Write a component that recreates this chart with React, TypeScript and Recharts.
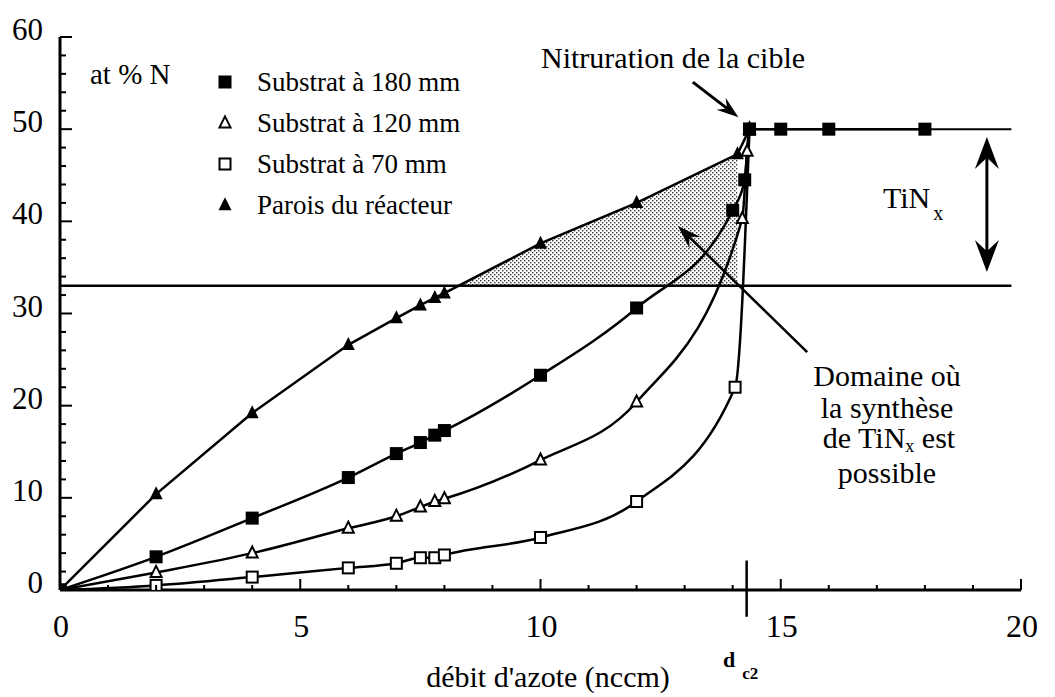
import React from 'react';
import { ComposedChart, Line, Area, XAxis, YAxis, ReferenceLine } from 'recharts';

const FONT = 'Liberation Serif';

// readings from the figure: [débit (nccm), at % N]
const sub180 = [
  [0, 0], [2, 3.6], [4, 7.8], [6, 12.2], [7, 14.8], [7.5, 16], [7.8, 16.8], [8, 17.3],
  [10, 23.3], [12, 30.6], [14, 41.2], [14.25, 44.5], [14.35, 50], [15, 50], [16, 50], [18, 50],
].map(([x, y]) => ({ x, y }));

const sub120 = [
  [0, 0], [2, 1.9], [4, 4], [6, 6.7], [7, 8], [7.5, 9], [7.8, 9.6], [8, 9.9],
  [10, 14.1], [12, 20.4], [14.2, 40.3], [14.3, 47.6], [14.35, 50],
].map(([x, y]) => ({ x, y }));

const sub70 = [
  [0, 0], [2, 0.5], [4, 1.4], [6, 2.4], [7, 2.9], [7.5, 3.5], [7.8, 3.5], [8, 3.8],
  [10, 5.7], [12, 9.6], [14.05, 22], [14.35, 50],
].map(([x, y]) => ({ x, y }));

const parois = [
  [0, 0], [2, 10.4], [4, 19.2], [6, 26.6], [7, 29.5], [7.5, 30.9], [7.8, 31.7], [8, 32.2],
  [10, 37.6], [12, 42], [14.1, 47.3], [14.35, 50],
].map(([x, y]) => ({ x, y }));

// shaded "domaine" between the 33 % line and the wall curve
const domaine = [
  [8.33, 33], [10, 37.6], [12, 42], [14.1, 47.3],
].map(([x, hi]) => ({ x, lo: 33, hi }));

const xTicks = Array.from({ length: 21 }, (_, i) => i);
const yTicks = Array.from({ length: 31 }, (_, i) => i * 2);
const seuil = 33;
const dc2 = 14.29;

type Kind = 'sqFill' | 'sqOpen' | 'triOpen' | 'triFill';

function Marker({ kind, cx, cy }: { kind: Kind; cx: number; cy: number }) {
  if (kind === 'sqFill') {
    const s = 13;
    return <rect x={cx - s / 2} y={cy - s / 2} width={s} height={s} fill="#000" />;
  }
  if (kind === 'sqOpen') {
    const s = 11;
    return <rect x={cx - s / 2} y={cy - s / 2} width={s} height={s} fill="#fff" stroke="#000" strokeWidth={2} />;
  }
  const s = kind === 'triFill' ? 13 : 11;
  const pts = `${cx},${cy - s * 0.6} ${cx - s / 2},${cy + s * 0.4} ${cx + s / 2},${cy + s * 0.4}`;
  return kind === 'triFill' ? (
    <polygon points={pts} fill="#000" />
  ) : (
    <polygon points={pts} fill="#fff" stroke="#000" strokeWidth={2} />
  );
}

const dotFor = (kind: Kind) => (p: any) => {
  if (p.cx == null || p.cy == null) return <g key={`${kind}-${p.index}`} />;
  return (
    <g key={`${kind}-${p.index}`}>
      <Marker kind={kind} cx={p.cx} cy={p.cy} />
    </g>
  );
};

function head(tx: number, ty: number, ux: number, uy: number, len: number, wid: number) {
  const nx = -uy;
  const ny = ux;
  const bx = tx - ux * len;
  const by = ty - uy * len;
  const mx = tx - ux * len * 0.65;
  const my = ty - uy * len * 0.65;
  return `${tx},${ty} ${bx + (nx * wid) / 2},${by + (ny * wid) / 2} ${mx},${my} ${bx - (nx * wid) / 2},${by - (ny * wid) / 2}`;
}

const arrow = (len: number, wid: number, sw: number, both = false) => (props: any) => {
  const { x1, y1, x2, y2 } = props;
  const d = Math.hypot(x2 - x1, y2 - y1) || 1;
  const ux = (x2 - x1) / d;
  const uy = (y2 - y1) / d;
  const sx = both ? x1 + ux * len * 0.6 : x1;
  const sy = both ? y1 + uy * len * 0.6 : y1;
  return (
    <g>
      <line x1={sx} y1={sy} x2={x2 - ux * len * 0.6} y2={y2 - uy * len * 0.6} stroke="#000" strokeWidth={sw} />
      <polygon points={head(x2, y2, ux, uy, len, wid)} fill="#000" />
      {both && <polygon points={head(x1, y1, -ux, -uy, len, wid)} fill="#000" />}
    </g>
  );
};

function XTick({ x, y, payload }: any) {
  const v = payload.value as number;
  const major = v % 5 === 0;
  return (
    <g>
      <line x1={x} y1={y} x2={x} y2={y - (major ? 11 : 5)} stroke="#000" strokeWidth={2} />
      {major && (
        <text x={x + 1} y={y + 47} textAnchor="middle" fontFamily={FONT} fontSize={32} fill="#000">
          {v}
        </text>
      )}
    </g>
  );
}

function YTick({ x, y, payload }: any) {
  const v = payload.value as number;
  const major = v % 10 === 0;
  return (
    <g>
      <line x1={x} y1={y} x2={x + (major ? 12 : 6)} y2={y} stroke="#000" strokeWidth={2} />
      {major && (
        <text x={x - 17} y={y + 3} textAnchor="end" fontFamily={FONT} fontSize={31} fill="#000">
          {v}
        </text>
      )}
    </g>
  );
}

const legend: { kind: Kind; label: string }[] = [
  { kind: 'sqFill', label: 'Substrat à 180 mm' },
  { kind: 'triOpen', label: 'Substrat à 120 mm' },
  { kind: 'sqOpen', label: 'Substrat à 70 mm' },
  { kind: 'triFill', label: 'Parois du réacteur' },
];

export default function App() {
  const t = { fontFamily: FONT, fill: '#000' };
  return (
    <div style={{ position: 'absolute', left: 0, top: 0, width: 1055, height: 697, background: '#fff' }}>
      <ComposedChart width={1055} height={697} margin={{ top: 37, right: 34, bottom: 67, left: 0 }}>
        <defs>
          <pattern id="stipple" width="4" height="4" patternUnits="userSpaceOnUse">
            <rect width="4" height="4" fill="#fff" />
            <rect x="0" y="0" width="1.4" height="1.4" fill="#333" />
            <rect x="2" y="2" width="1.4" height="1.4" fill="#333" />
          </pattern>
        </defs>
        <XAxis
          dataKey="x"
          type="number"
          domain={[0, 20]}
          ticks={xTicks}
          interval={0}
          height={40}
          tickSize={0}
          tickMargin={0}
          tickLine={false}
          tick={<XTick />}
          axisLine={{ stroke: '#000', strokeWidth: 3 }}
          allowDataOverflow
        />
        <YAxis
          type="number"
          domain={[0, 60]}
          ticks={yTicks}
          interval={0}
          width={60}
          tickSize={0}
          tickMargin={0}
          tickLine={false}
          tick={<YTick />}
          axisLine={{ stroke: '#000', strokeWidth: 3 }}
          allowDataOverflow
        />
        <Area
          data={domaine}
          dataKey={(d: any) => [d.lo, d.hi]}
          type="linear"
          fill="url(#stipple)"
          fillOpacity={1}
          stroke="none"
          dot={false}
          activeDot={false}
          isAnimationActive={false}
        />
        <ReferenceLine segment={[{ x: 0, y: seuil }, { x: 19.8, y: seuil }]} stroke="#000" strokeWidth={2.5} />
        <ReferenceLine segment={[{ x: 14.35, y: 50 }, { x: 19.8, y: 50 }]} stroke="#000" strokeWidth={2} />
        <ReferenceLine
          segment={[{ x: dc2, y: 3.2 }, { x: dc2, y: -2.9 }]}
          stroke="#000"
          strokeWidth={2.5}
          ifOverflow="visible"
        />
        <ReferenceLine
          segment={[{ x: 13.17, y: 55.1 }, { x: 14.12, y: 51.3 }]}
          ifOverflow="visible"
          shape={arrow(22, 15, 3)}
        />
        <ReferenceLine
          segment={[{ x: 15.55, y: 25.8 }, { x: 12.86, y: 39.5 }]}
          ifOverflow="visible"
          shape={arrow(24, 16, 2.5)}
        />
        <ReferenceLine
          segment={[{ x: 19.29, y: 49.15 }, { x: 19.29, y: 34.5 }]}
          ifOverflow="visible"
          shape={arrow(32, 24, 3, true)}
        />
        <Line data={sub70} dataKey="y" type="monotone" stroke="#000" strokeWidth={2.5} dot={dotFor('sqOpen')} activeDot={false} isAnimationActive={false} />
        <Line data={sub120} dataKey="y" type="monotone" stroke="#000" strokeWidth={2.5} dot={dotFor('triOpen')} activeDot={false} isAnimationActive={false} />
        <Line data={parois} dataKey="y" type="linear" stroke="#000" strokeWidth={2.5} dot={dotFor('triFill')} activeDot={false} isAnimationActive={false} />
        <Line data={sub180} dataKey="y" type="monotone" stroke="#000" strokeWidth={2.5} dot={dotFor('sqFill')} activeDot={false} isAnimationActive={false} />

        <text x={90} y={84} fontSize={29} {...t}>at % N</text>
        {legend.map((l, i) => (
          <g key={l.label}>
            <Marker kind={l.kind} cx={225} cy={82 + i * 41} />
            <text x={257} y={91 + i * 41} fontSize={27} {...t}>{l.label}</text>
          </g>
        ))}
        <text x={541} y={68} fontSize={30} {...t}>Nitruration de la cible</text>
        <text x={883} y={208} fontSize={30} {...t}>
          TiN<tspan dx={3} dy={12} fontSize={20}>x</tspan>
        </text>
        <text x={887} y={386} fontSize={30} textAnchor="middle" {...t}>Domaine où</text>
        <text x={887} y={418} fontSize={30} textAnchor="middle" {...t}>la synthèse</text>
        <text x={889} y={448} fontSize={30} textAnchor="middle" {...t}>
          de TiN<tspan dy={4} fontSize={18}>x</tspan>
          <tspan dy={-4}> est</tspan>
        </text>
        <text x={887} y={483} fontSize={30} textAnchor="middle" {...t}>possible</text>
        <text x={723} y={667} fontSize={22} fontWeight="bold" {...t}>
          d<tspan dx={7} dy={12} fontSize={17}>c2</tspan>
        </text>
      </ComposedChart>
      <div
        style={{
          position: 'absolute',
          left: 348,
          top: 660,
          width: 400,
          textAlign: 'center',
          fontFamily: FONT,
          fontSize: 30,
          lineHeight: '34px',
          color: '#000',
        }}
      >
        débit d'azote (nccm)
      </div>
    </div>
  );
}
